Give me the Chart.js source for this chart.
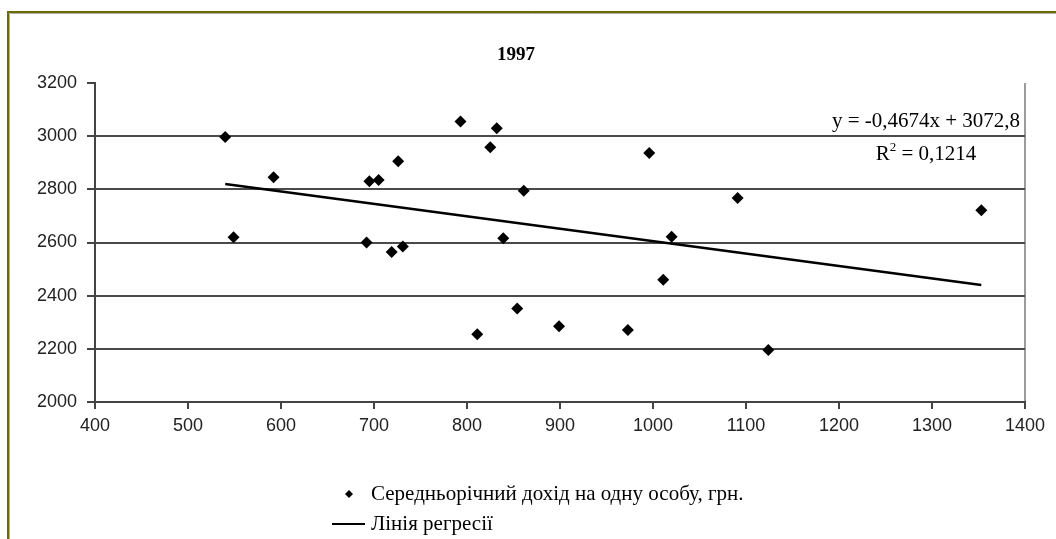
<!DOCTYPE html>
<html>
<head>
<meta charset="utf-8">
<script src="https://cdn.jsdelivr.net/npm/chart.js@4.4.1/dist/chart.umd.min.js"></script>
<style>
  body { margin: 0; background: #fff; }
</style>
</head>
<body>
<canvas id="myScatterChart" width="1056" height="539"></canvas>
<script>
// Середньорічний дохід (x) vs показник (y), 1997
const incomeX = [540, 549, 592, 692, 695, 705, 719, 726, 731, 793, 811, 825, 832, 839, 854, 861, 899, 973, 996, 1011, 1020, 1091, 1124, 1353];
const valueY = [2997, 2620, 2845, 2600, 2830, 2835, 2564, 2906, 2585, 3055, 2255, 2958, 3030, 2616, 2352, 2795, 2285, 2271, 2937, 2460, 2622, 2767, 2196, 2721];

// regression line ends
const trendX = [540, 1353];
const trendY = [2820, 2440];

const xTicks = [400, 500, 600, 700, 800, 900, 1000, 1100, 1200, 1300, 1400];
const yTicks = [2000, 2200, 2400, 2600, 2800, 3000, 3200];

const chartTitle = "1997";
const equationText = "y = -0,4674x + 3072,8";
const rSquaredText = " = 0,1214";
const pointsLabel = "Середньорічний дохід на одну особу, грн.";
const trendLabel = "Лінія регресії";

const axisFont = { family: "'Liberation Sans', Arial, sans-serif", size: 18 };
const serif = "'Liberation Serif', 'Times New Roman', serif";

const scatterCtx = document.getElementById("myScatterChart").getContext("2d");

const extrasPlugin = {
  id: "extras",
  beforeDraw(chart) {
    const c = chart.ctx;
    c.save();
    c.fillStyle = "#fff";
    c.fillRect(0, 0, chart.width, chart.height);
    // outer frame (top and left visible)
    c.strokeStyle = "#6b6b00";
    c.lineWidth = 2;
    c.beginPath();
    c.moveTo(8, chart.height);
    c.lineTo(8, 12);
    c.lineTo(chart.width, 12);
    c.stroke();
    c.strokeStyle = "#b0b0b0";
    c.lineWidth = 1;
    c.beginPath();
    c.moveTo(9.5, chart.height);
    c.lineTo(9.5, 13.5);
    c.lineTo(chart.width, 13.5);
    c.stroke();
    c.restore();
  },
  afterDraw(chart) {
    const c = chart.ctx;
    c.save();
    c.fillStyle = "#000";
    c.textBaseline = "middle";

    // title
    c.font = "bold 19px " + serif;
    c.textAlign = "center";
    c.fillText(chartTitle, 516, 55);

    // equation + R^2
    c.font = "21px " + serif;
    c.textBaseline = "alphabetic";
    c.fillText(equationText, 926, 127);
    const wR = c.measureText("R").width;
    c.font = "13px " + serif;
    const w2 = c.measureText("2").width;
    c.font = "21px " + serif;
    const wRest = c.measureText(rSquaredText).width;
    let x0 = 926 - (wR + w2 + wRest) / 2;
    c.textAlign = "left";
    c.fillText("R", x0, 160);
    c.font = "13px " + serif;
    c.fillText("2", x0 + wR, 151);
    c.font = "21px " + serif;
    c.fillText(rSquaredText, x0 + wR + w2, 160);

    // legend
    c.textBaseline = "middle";
    c.beginPath();
    c.moveTo(349, 490);
    c.lineTo(353, 494);
    c.lineTo(349, 498);
    c.lineTo(345, 494);
    c.closePath();
    c.fill();
    c.fillText(pointsLabel, 371, 494);
    c.strokeStyle = "#000";
    c.lineWidth = 2;
    c.beginPath();
    c.moveTo(332, 524);
    c.lineTo(365, 524);
    c.stroke();
    c.fillText(trendLabel, 371, 524);
    c.restore();
  }
};

const myScatterChart = new Chart(scatterCtx, {
  type: "scatter",
  data: {
    datasets: [
      {
        label: pointsLabel,
        data: incomeX.map((x, i) => ({ x: x, y: valueY[i] })),
        pointStyle: "rectRot",
        pointRadius: 6,
        pointHoverRadius: 6,
        backgroundColor: "#000",
        borderColor: "#000",
        borderWidth: 0,
      },
      {
        label: trendLabel,
        type: "line",
        data: trendX.map((x, i) => ({ x: x, y: trendY[i] })),
        borderColor: "#000",
        borderWidth: 2.5,
        pointRadius: 0,
        showLine: true,
        fill: false,
      },
    ],
  },
  options: {
    responsive: false,
    animation: false,
    layout: {
      padding: { top: 83, right: 31, bottom: 97, left: 0 }
    },
    plugins: {
      legend: { display: false },
      title: { display: false },
      tooltip: { enabled: false }
    },
    scales: {
      x: {
        type: "linear",
        min: xTicks[0],
        max: xTicks[xTicks.length - 1],
        ticks: {
          stepSize: xTicks[1] - xTicks[0],
          color: "#222",
          font: axisFont,
          padding: 6,
          maxRotation: 0,
          callback: (v) => String(v),
        },
        grid: {
          color: (ctx) => (ctx.tick && ctx.tick.value === 1400 ? "#9c9c9c" : "rgba(0,0,0,0)"),
          lineWidth: 2,
          tickColor: "#444",
          tickLength: 7,
        },
        border: { color: "#444", width: 2 },
        afterFit: (scale) => { scale.height = 40; },
      },
      y: {
        type: "linear",
        min: yTicks[0],
        max: yTicks[yTicks.length - 1],
        ticks: {
          stepSize: yTicks[1] - yTicks[0],
          color: "#222",
          font: axisFont,
          padding: 10,
          callback: (v) => String(v),
        },
        grid: {
          color: (ctx) => (ctx.tick && (ctx.tick.value === 3200 || ctx.tick.value === 2000) ? "rgba(0,0,0,0)" : "#4a4a4a"),
          lineWidth: 2,
          tickColor: "#444",
          tickLength: 8,
        },
        border: { color: "#444", width: 2 },
        afterFit: (scale) => { scale.width = 95; },
      },
    },
  },
  plugins: [extrasPlugin],
});
</script>
</body>
</html>
